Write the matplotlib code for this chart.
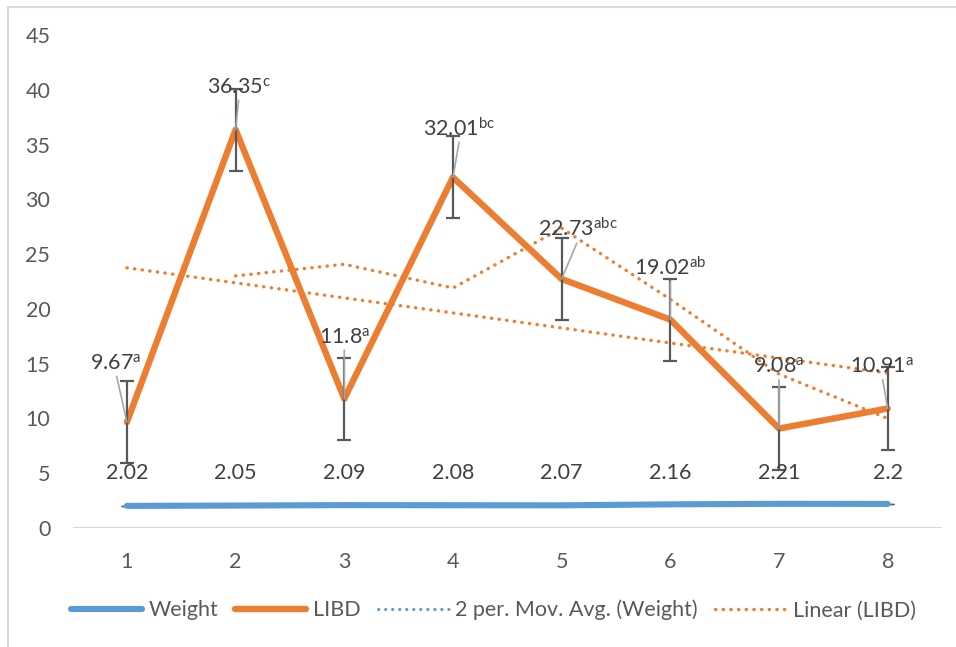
import numpy as np
import matplotlib.pyplot as plt
from matplotlib.lines import Line2D

plt.rcParams['font.family'] = ['Lato', 'DejaVu Sans']
plt.rcParams['mathtext.fontset'] = 'custom'
plt.rcParams['mathtext.rm'] = 'Lato'
plt.rcParams['mathtext.it'] = 'Lato:italic'

samples = [1, 2, 3, 4, 5, 6, 7, 8]
weight = [2.02, 2.05, 2.09, 2.08, 2.07, 2.16, 2.21, 2.2]
libd = [9.67, 36.35, 11.8, 32.01, 22.73, 19.02, 9.08, 10.91]
letters = ['a', 'c', 'a', 'bc', 'abc', 'ab', 'a', 'a']
weight_err = [0.025] * 8
libd_err = [3.75] * 8

# where each LIBD label sits (x, y)
label_pos = [(0.9, 15.0), (2.03, 40.2), (3.0, 17.4), (4.06, 36.5),
             (5.15, 27.3), (6.0, 23.8), (7.0, 14.7), (7.95, 14.7)]

blue = '#5B9BD5'
orange = '#ED7D31'
txt = '#404040'
tick_c = '#595959'
grid_c = '#D9D9D9'
fs = 15.5

x = np.array(samples)
w = np.array(weight)
l = np.array(libd)

fig = plt.figure(figsize=(9.56, 6.47), dpi=100)
ax = fig.add_axes([0.0759, 0.1839, 0.9095, 0.762])

ax.plot(x, w, color=blue, lw=4.4, solid_capstyle='round', zorder=3)
ax.errorbar(x, w, yerr=weight_err, fmt='none', ecolor=tick_c, elinewidth=1.3,
            capsize=4, zorder=2)
ax.plot(x, l, color=orange, lw=4.6, solid_capstyle='round', zorder=3)
ax.errorbar(x, l, yerr=libd_err, fmt='none', ecolor=tick_c, elinewidth=1.6,
            capsize=5, capthick=1.6, zorder=4)

# trendlines
w_ma = (w[1:] + w[:-1]) / 2
l_ma = (l[1:] + l[:-1]) / 2
ax.plot(x[1:], w_ma, color=blue, lw=2.2, ls=(0, (0.1, 2.2)),
        dash_capstyle='round', zorder=2)
ax.plot(x[1:], l_ma, color=orange, lw=2.4, ls=(0, (0.1, 2.2)),
        dash_capstyle='round', zorder=2)
k, b = np.polyfit(x, l, 1)
ax.plot(x, k * x + b, color=orange, lw=2.4, ls=(0, (0.1, 2.2)),
        dash_capstyle='round', zorder=2)

# data labels
for xi, wi in zip(x, w):
    ax.text(xi, 5.0, f'{wi:g}', ha='center', va='center', fontsize=fs,
            color=txt, zorder=5)
for xi, li, let, (tx, ty) in zip(x, l, letters, label_pos):
    ax.annotate(f'{li:g}' + r'$^{\mathrm{' + let + '}}$', xy=(xi, li),
                xytext=(tx, ty), ha='center', va='center', fontsize=fs,
                color=txt, zorder=5,
                arrowprops=dict(arrowstyle='-', color='#A6A6A6', lw=1.2,
                                shrinkA=0, shrinkB=0, relpos=(0.5, 0.0)))

ax.set_xlim(0.5, 8.5)
ax.set_ylim(0, 45)
ax.set_yticks(range(0, 46, 5))
ax.set_xticks(samples)
for s in ax.spines.values():
    s.set_visible(False)
ax.axhline(0, color=grid_c, lw=1.5, zorder=1)
ax.tick_params(length=0, labelsize=fs, labelcolor=tick_c)
ax.tick_params(axis='x', pad=17)
ax.tick_params(axis='y', pad=16)

handles = [
    Line2D([], [], color=blue, lw=4.4, solid_capstyle='round'),
    Line2D([], [], color=orange, lw=4.6, solid_capstyle='round'),
    Line2D([], [], color=blue, lw=2.2, ls=(0, (0.1, 2.2)), dash_capstyle='round'),
    Line2D([], [], color=orange, lw=2.4, ls=(0, (0.1, 2.2)), dash_capstyle='round'),
]
names = ['Weight', 'LIBD', '2 per. Mov. Avg. (Weight)', 'Linear (LIBD)']
fig.legend(handles, names, loc='center', bbox_to_anchor=(0.516, 0.057), ncol=4,
           frameon=False, fontsize=fs, labelcolor=tick_c, handlelength=3.3,
           handletextpad=0.3, columnspacing=0.8)

# outer chart border
fig.add_artist(Line2D([8 / 956, 8 / 956], [0, 1 - 7 / 647], color=grid_c, lw=1.5,
                      transform=fig.transFigure))
fig.add_artist(Line2D([8 / 956, 1], [1 - 7 / 647, 1 - 7 / 647], color=grid_c,
                      lw=1.5, transform=fig.transFigure))

fig.savefig('out.png', dpi=100)
